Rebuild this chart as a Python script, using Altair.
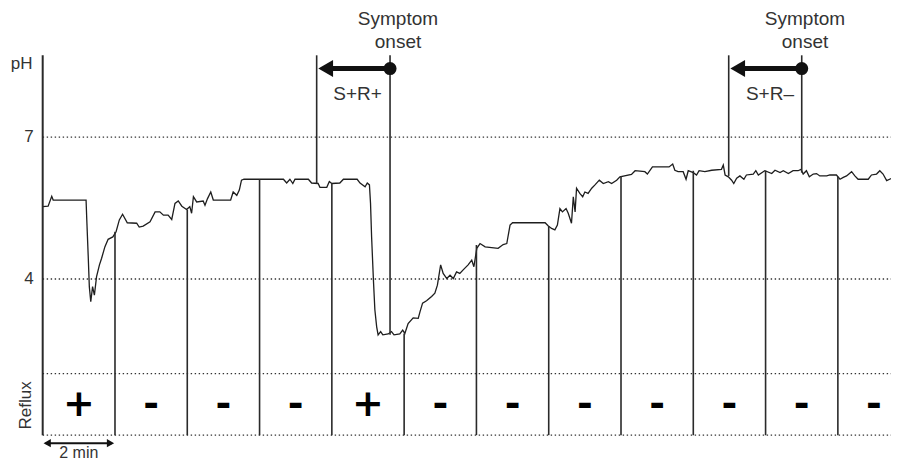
import altair as alt
import pandas as pd

# ---------------- data (minutes, pH) ----------------
time_min = [0, 0.15, 0.25, 0.29, 1.20, 1.22, 1.26, 1.29, 1.33, 1.38,
            1.43, 1.49, 1.57, 1.63, 1.72, 1.81, 1.94, 2.03, 2.12, 2.21,
            2.34, 2.60, 2.67, 2.78, 2.97, 3.11, 3.24, 3.34, 3.47, 3.57,
            3.66, 3.75, 3.85, 3.98, 4.07, 4.12, 4.17, 4.26, 4.44, 4.49,
            4.56, 4.65, 4.72, 5.20, 5.27, 5.37, 5.44, 5.50, 5.57, 6.66,
            6.75, 6.84, 6.92, 6.98, 7.35, 7.44, 7.62, 7.67, 7.86, 7.93,
            8.00, 8.22, 8.32, 8.70, 8.78, 8.92, 8.98, 9.04, 9.07, 9.10,
            9.15, 9.19, 9.24, 9.28, 9.35, 9.41, 9.56, 9.65, 9.72, 9.88,
            9.96, 10.02, 10.11, 10.25, 10.39, 10.44, 10.51, 10.62, 10.76, 10.85,
            10.92, 11.01, 11.08, 11.18, 11.27, 11.36, 11.45, 11.54, 11.64, 11.77,
            11.87, 11.93, 12.01, 12.10, 12.24, 12.60, 12.74, 12.84, 12.93, 13.00,
            13.90, 13.99, 14.08, 14.17, 14.24, 14.31, 14.38, 14.48, 14.54, 14.63,
            14.68, 14.73, 14.77, 14.86, 14.94, 15.00, 15.09, 15.19, 15.28, 15.40,
            15.51, 15.65, 15.74, 15.88, 15.97, 16.29, 16.39, 16.66, 16.73, 16.87,
            17.33, 17.43, 17.49, 17.58, 17.72, 17.80, 17.86, 18.00, 18.09, 18.16,
            18.32, 18.51, 18.78, 18.83, 18.88, 18.97, 19.06, 19.12, 19.20, 19.29,
            19.40, 19.47, 19.66, 19.73, 19.80, 19.98, 20.17, 20.26, 20.40, 20.49,
            20.63, 20.76, 20.90, 20.98, 21.04, 21.13, 21.21, 21.32, 21.41, 21.50,
            21.69, 21.78, 21.96, 22.06, 22.15, 22.24, 22.38, 22.47, 22.56, 22.84,
            22.93, 23.07, 23.16, 23.25, 23.35, 23.49, 23.58]
ph = [5.53, 5.54, 5.75, 5.67, 5.67, 5.25, 4.47, 3.84, 3.52, 3.84,
      3.66, 4.05, 4.30, 4.44, 4.68, 4.84, 4.89, 5.00, 5.25, 5.37,
      5.19, 5.18, 5.10, 5.12, 5.21, 5.42, 5.42, 5.35, 5.35, 5.26,
      5.60, 5.65, 5.54, 5.47, 5.53, 5.39, 5.74, 5.63, 5.65, 5.56,
      5.70, 5.84, 5.67, 5.67, 5.84, 5.77, 5.88, 6.09, 6.11, 6.11,
      6.03, 6.11, 6.02, 6.11, 6.11, 6.03, 6.02, 5.94, 5.94, 6.06,
      6.02, 6.03, 6.11, 6.11, 6.03, 5.95, 6.03, 5.99, 5.60, 4.89,
      3.98, 3.35, 2.99, 2.82, 2.89, 2.82, 2.84, 2.89, 2.82, 2.84,
      2.92, 2.85, 3.06, 3.18, 3.17, 3.31, 3.49, 3.54, 3.63, 3.70,
      3.87, 4.30, 4.12, 4.01, 4.08, 4.01, 4.15, 4.12, 4.20, 4.30,
      4.40, 4.26, 4.65, 4.75, 4.68, 4.65, 4.73, 4.75, 5.14, 5.19,
      5.19, 5.12, 5.07, 5.04, 5.14, 5.49, 5.42, 5.49, 5.39, 5.18,
      5.74, 5.42, 5.92, 5.81, 5.74, 5.84, 5.81, 5.92, 5.99, 6.09,
      6.02, 6.06, 6.02, 6.09, 6.16, 6.21, 6.29, 6.27, 6.22, 6.37,
      6.37, 6.43, 6.30, 6.27, 6.27, 6.11, 6.29, 6.25, 6.20, 6.29,
      6.27, 6.30, 6.32, 6.41, 6.20, 6.16, 6.09, 6.02, 6.13, 6.18,
      6.11, 6.20, 6.22, 6.29, 6.20, 6.29, 6.23, 6.30, 6.25, 6.29,
      6.23, 6.29, 6.29, 6.32, 6.22, 6.29, 6.16, 6.22, 6.23, 6.18,
      6.18, 6.20, 6.20, 6.11, 6.15, 6.18, 6.27, 6.18, 6.11, 6.11,
      6.20, 6.22, 6.29, 6.22, 6.08, 6.13, 6.20]

# 2-min window dividers (drawn from trace down to bottom of reflux row)
divider_min = [2, 4, 6, 8, 10, 12, 14, 16, 18, 20, 22]
divider_top_ph = [5.00, 5.47, 6.11, 6.02, 2.85, 4.72, 5.12, 6.18, 6.29, 6.29, 6.16]
axis_top_ph = 8.73
bottom_ph = 0.70
grid_ph = [7, 4, 2.0, 0.70]
grid_end_min = 23.63
tick_ph = [7, 4]
tick_labels = ["7", "4"]

# reflux row
window_center_min = [1, 3, 5, 7, 9, 11, 13, 15, 17, 19, 21, 23]
reflux_sign = ["+", "-", "-", "-", "+", "-", "-", "-", "-", "-", "-", "-"]
reflux_row_ph = 1.33

# symptom annotations
sym_left_min = [7.58, 18.98]
sym_left_bottom_ph = [6.02, 6.18]
sym_onset_min = [9.61, 21.00]
sym_onset_bottom_ph = [2.82, 6.25]
arrow_ph = 8.45
sym_label = ["S+R+", "S+R\u2013"]
sym_label_min = [8.71, 20.12]
sym_label_ph = 7.78
sym_text_min = [9.83, 21.09]
sym_text_lines = ["Symptom", "onset"]
sym_text_ph = [9.37, 8.88]

scale_arrow_ph = 0.53
scale_text_ph = 0.21

X0, X1 = -0.96, 23.47
Y0, Y1 = 0.09, 9.73
XS = alt.Scale(domain=[X0, X1], nice=False, zero=False)
YS = alt.Scale(domain=[Y0, Y1], nice=False, zero=False)
INK = "#2a2a2a"
FONT = "Liberation Sans"


def X(f):
    return alt.X(f, type="quantitative", scale=XS, axis=None)


def Y(f):
    return alt.Y(f, type="quantitative", scale=YS, axis=None)


trace_df = pd.DataFrame({"t": time_min, "ph": ph})
div_df = pd.DataFrame({"t": divider_min, "top": divider_top_ph, "bot": bottom_ph})
grid_df = pd.DataFrame({"y": grid_ph, "x0": 0.0, "x1": grid_end_min})
axis_df = pd.DataFrame({"t": [0.0], "top": [axis_top_ph], "bot": [bottom_ph]})
tick_df = pd.DataFrame({"y": tick_ph, "lab": tick_labels, "t": 0.0})
reflux_df = pd.DataFrame({"t": window_center_min, "s": reflux_sign, "y": reflux_row_ph})
symline_df = pd.DataFrame({
    "t": sym_left_min + sym_onset_min,
    "top": axis_top_ph,
    "bot": sym_left_bottom_ph + sym_onset_bottom_ph,
})
arrow_df = pd.DataFrame({"onset": sym_onset_min, "left": sym_left_min, "y": arrow_ph})
symlab_df = pd.DataFrame({"t": sym_label_min, "lab": sym_label, "y": sym_label_ph})
symtext_df = pd.DataFrame({
    "t": [m for m in sym_text_min for _ in sym_text_lines],
    "lab": sym_text_lines * len(sym_text_min),
    "y": sym_text_ph * len(sym_text_min),
})
scale_df = pd.DataFrame({"a": [0.0], "b": [2.0], "y": [scale_arrow_ph]})

grid = alt.Chart(grid_df).mark_rule(
    color="#333", strokeWidth=1.4, strokeDash=[1.4, 2.6]
).encode(x=X("x0"), x2="x1", y=Y("y"))

trace = alt.Chart(trace_df).mark_line(color="#1e1e1e", strokeWidth=1.3).encode(
    x=X("t"), y=Y("ph"))

dividers = alt.Chart(div_df).mark_rule(color=INK, strokeWidth=1.6).encode(
    x=X("t"), y=Y("top"), y2="bot")

axis_line = alt.Chart(axis_df).mark_rule(color=INK, strokeWidth=2).encode(
    x=X("t"), y=Y("top"), y2="bot")

ticks = alt.Chart(tick_df).mark_text(
    align="right", baseline="middle", dx=-9, fontSize=17, font=FONT, color="#333"
).encode(x=X("t"), y=Y("y"), text="lab")

ph_title = alt.Chart(pd.DataFrame({"t": [0.0], "y": [arrow_ph], "lab": ["pH"]})).mark_text(
    align="center", baseline="alphabetic", dx=-21, fontSize=17, font=FONT, color="#333"
).encode(x=X("t"), y=Y("y"), text="lab")

reflux_title = alt.Chart(pd.DataFrame({"t": [-0.47], "y": [reflux_row_ph], "lab": ["Reflux"]})).mark_text(
    align="center", baseline="middle", angle=270, fontSize=17, font=FONT, color="#333"
).encode(x=X("t"), y=Y("y"), text="lab")

signs = alt.Chart(reflux_df).mark_text(
    align="center", baseline="middle", fontSize=38, fontWeight="bold",
    font="DejaVu Sans", color="#000"
).encode(x=X("t"), y=Y("y"), text="s")

symlines = alt.Chart(symline_df).mark_rule(color=INK, strokeWidth=1.6).encode(
    x=X("t"), y=Y("top"), y2="bot")

shaft = alt.Chart(arrow_df).mark_rule(color="#111", strokeWidth=5, x2Offset=10).encode(
    x=X("onset"), x2="left", y=Y("y"))

heads = alt.Chart(arrow_df).mark_point(
    shape="triangle-left", filled=True, size=289, color="#111", opacity=1, xOffset=9
).encode(x=X("left"), y=Y("y"))

dots = alt.Chart(arrow_df).mark_circle(size=170, color="#111", opacity=1).encode(
    x=X("onset"), y=Y("y"))

symlabs = alt.Chart(symlab_df).mark_text(
    align="center", baseline="alphabetic", fontSize=19, font=FONT, color="#333"
).encode(x=X("t"), y=Y("y"), text="lab")

symtext = alt.Chart(symtext_df).mark_text(
    align="center", baseline="alphabetic", fontSize=19, font=FONT, color="#333"
).encode(x=X("t"), y=Y("y"), text="lab")

scale_rule = alt.Chart(scale_df).mark_rule(
    color="#111", strokeWidth=2, xOffset=3, x2Offset=-3
).encode(x=X("a"), x2="b", y=Y("y"))

scale_l = alt.Chart(scale_df).mark_point(
    shape="triangle-left", filled=True, size=70, color="#111", opacity=1, xOffset=4.5
).encode(x=X("a"), y=Y("y"))

scale_r = alt.Chart(scale_df).mark_point(
    shape="triangle-right", filled=True, size=70, color="#111", opacity=1, xOffset=-4.5
).encode(x=X("b"), y=Y("y"))

scale_txt = alt.Chart(pd.DataFrame({"t": [1.0], "y": [scale_text_ph], "lab": ["2 min"]})).mark_text(
    align="center", baseline="alphabetic", fontSize=16, font=FONT, color="#333"
).encode(x=X("t"), y=Y("y"), text="lab")

chart = alt.layer(
    grid, trace, dividers, axis_line, ticks, ph_title, reflux_title, signs,
    symlines, shaft, heads, dots, symlabs, symtext, scale_rule, scale_l, scale_r, scale_txt
).properties(
    width=883, height=456, padding=0,
    autosize=alt.AutoSizeParams(type="none")
).configure_view(stroke=None)

chart.save("out.html", embed_options={"renderer": "svg", "actions": False})
